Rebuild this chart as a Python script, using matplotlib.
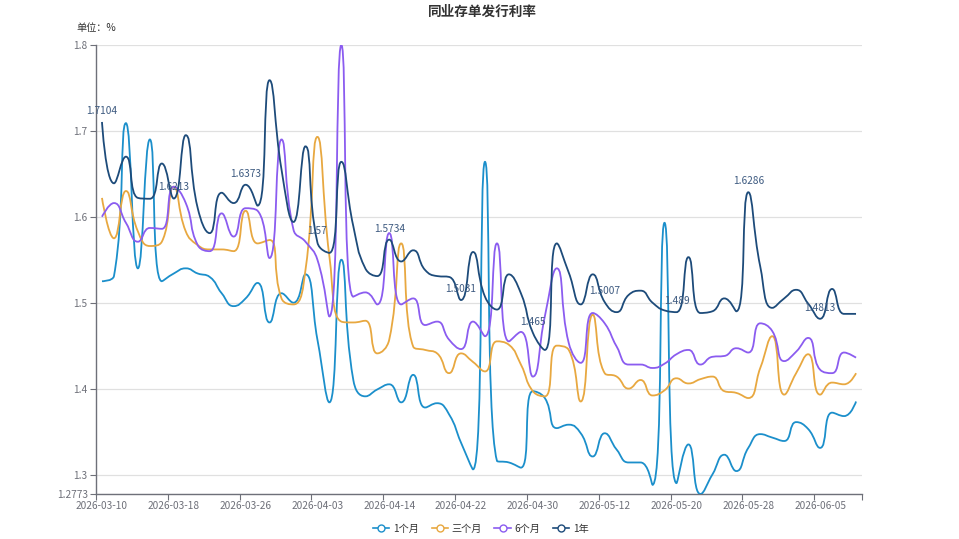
import numpy as np
import matplotlib
matplotlib.use('Agg')
import matplotlib.pyplot as plt
from matplotlib.path import Path
from matplotlib.patches import PathPatch
from matplotlib.lines import Line2D

plt.rcParams['font.family'] = ['Noto Sans CJK SC', 'DejaVu Sans']

# trading days shown on the category axis
dates = ['2026-03-10', '2026-03-11', '2026-03-12', '2026-03-13', '2026-03-16', '2026-03-17',
         '2026-03-18', '2026-03-19', '2026-03-20', '2026-03-23', '2026-03-24', '2026-03-25',
         '2026-03-26', '2026-03-27', '2026-03-30', '2026-03-31', '2026-04-01', '2026-04-02',
         '2026-04-03', '2026-04-07', '2026-04-08', '2026-04-09', '2026-04-10', '2026-04-13',
         '2026-04-14', '2026-04-15', '2026-04-16', '2026-04-17', '2026-04-20', '2026-04-21',
         '2026-04-22', '2026-04-23', '2026-04-24', '2026-04-27', '2026-04-28', '2026-04-29',
         '2026-04-30', '2026-05-06', '2026-05-07', '2026-05-08', '2026-05-09', '2026-05-11',
         '2026-05-12', '2026-05-13', '2026-05-14', '2026-05-15', '2026-05-18', '2026-05-19',
         '2026-05-20', '2026-05-21', '2026-05-22', '2026-05-25', '2026-05-26', '2026-05-27',
         '2026-05-28', '2026-05-29', '2026-06-01', '2026-06-02', '2026-06-03', '2026-06-04',
         '2026-06-05', '2026-06-08', '2026-06-09', '2026-06-10']

rate_1m = [1.525, 1.531, 1.709, 1.540, 1.690, 1.525, 1.534, 1.540, 1.534, 1.530,
           1.511, 1.496, 1.505, 1.523, 1.477, 1.511, 1.500, 1.533, 1.457, 1.384,
           1.550, 1.410, 1.391, 1.399, 1.405, 1.384, 1.416, 1.378, 1.383, 1.370,
           1.337, 1.306, 1.664, 1.316, 1.314, 1.308, 1.397, 1.389, 1.354, 1.358,
           1.348, 1.321, 1.348, 1.329, 1.314, 1.314, 1.288, 1.593, 1.290, 1.335,
           1.2773, 1.300, 1.323, 1.304, 1.331, 1.347, 1.343, 1.339, 1.361, 1.353,
           1.331, 1.372, 1.368, 1.385]

rate_3m = [1.622, 1.575, 1.630, 1.583, 1.566, 1.571, 1.635, 1.583, 1.567, 1.562,
           1.562, 1.560, 1.607, 1.569, 1.573, 1.505, 1.498, 1.538, 1.693, 1.554,
           1.478, 1.477, 1.479, 1.441, 1.457, 1.569, 1.449, 1.445, 1.441, 1.418,
           1.441, 1.431, 1.420, 1.455, 1.451, 1.428, 1.397, 1.391, 1.450, 1.445,
           1.385, 1.486, 1.418, 1.414, 1.400, 1.410, 1.392, 1.398, 1.412, 1.406,
           1.411, 1.414, 1.397, 1.395, 1.389, 1.424, 1.461, 1.393, 1.418, 1.440,
           1.393, 1.407, 1.405, 1.418]

rate_6m = [1.600, 1.616, 1.593, 1.571, 1.587, 1.586, 1.635, 1.616, 1.567, 1.560,
           1.604, 1.577, 1.610, 1.607, 1.552, 1.690, 1.585, 1.571, 1.550, 1.484,
           1.800, 1.507, 1.512, 1.498, 1.581, 1.498, 1.505, 1.474, 1.478, 1.457,
           1.446, 1.478, 1.461, 1.569, 1.455, 1.466, 1.414, 1.484, 1.540, 1.453,
           1.430, 1.488, 1.476, 1.449, 1.428, 1.428, 1.424, 1.429, 1.440, 1.445,
           1.428, 1.437, 1.438, 1.447, 1.442, 1.476, 1.467, 1.432, 1.443, 1.459,
           1.422, 1.418, 1.442, 1.436]

rate_1y = [1.7104, 1.639, 1.670, 1.622, 1.621, 1.662, 1.6213, 1.695, 1.610, 1.581,
           1.628, 1.616, 1.6373, 1.613, 1.759, 1.655, 1.594, 1.682, 1.57, 1.558,
           1.664, 1.589, 1.540, 1.531, 1.5734, 1.548, 1.561, 1.538, 1.531, 1.530,
           1.5031, 1.559, 1.507, 1.492, 1.533, 1.511, 1.465, 1.445, 1.569, 1.535,
           1.498, 1.533, 1.5007, 1.489, 1.509, 1.514, 1.500, 1.491, 1.489, 1.553,
           1.488, 1.490, 1.505, 1.490, 1.6286, 1.542, 1.494, 1.505, 1.515, 1.499,
           1.4813, 1.516, 1.487, 1.487]

series_names = ['1个月', '三个月', '6个月', '1年']
series_colors = ['#1b8fcb', '#e8a840', '#8b5cf0', '#1d4b7a']


def smooth_path(xs, ys, sx, sy, smooth=0.5):
    """ Bezier path through the points, control points worked out like echarts smooth lines """
    px = np.asarray(xs, float) * sx
    py = np.asarray(ys, float) * sy
    n = len(px)
    verts = [(px[0], py[0])]
    codes = [Path.MOVETO]
    cp0 = (px[0], py[0])
    for i in range(1, n):
        x, y = px[i], py[i]
        prx, pry = px[i - 1], py[i - 1]
        if i == n - 1:
            cp1 = (x, y)
            nxt = None
        else:
            nx, ny = px[i + 1], py[i + 1]
            vx, vy = nx - prx, ny - pry
            lp = np.hypot(x - prx, y - pry)
            ln = np.hypot(nx - x, ny - y)
            r = ln / (ln + lp)
            ncx = x + vx * smooth * r
            ncy = y + vy * smooth * r
            ncx = max(min(ncx, max(nx, x)), min(nx, x))
            ncy = max(min(ncy, max(ny, y)), min(ny, y))
            vx, vy = ncx - x, ncy - y
            c1x = x - vx * lp / ln
            c1y = y - vy * lp / ln
            c1x = max(min(c1x, max(prx, x)), min(prx, x))
            c1y = max(min(c1y, max(pry, y)), min(pry, y))
            vx, vy = x - c1x, y - c1y
            cp1 = (c1x, c1y)
            nxt = (x + vx * ln / lp, y + vy * ln / lp)
        verts += [cp0, cp1, (x, y)]
        codes += [Path.CURVE4] * 3
        cp0 = nxt
    verts = np.array(verts)
    verts[:, 0] /= sx
    verts[:, 1] /= sy
    return Path(verts, codes)


fig = plt.figure(figsize=(9.59, 5.39), dpi=100)
ax = fig.add_axes([96 / 959, 45 / 539, 766 / 959, 449 / 539])

idx = np.arange(len(dates))
ymin = min(rate_1m + rate_3m + rate_6m + rate_1y)
ymax = max(rate_1m + rate_3m + rate_6m + rate_1y)

for vals, color in zip([rate_1m, rate_3m, rate_6m, rate_1y], series_colors):
    path = smooth_path(idx, vals, 12, 860)
    ax.add_patch(PathPatch(path, facecolor='none', edgecolor=color, lw=1.3, zorder=3))

# value labels on every 6th point of the 1-year series
for i in range(0, len(dates), 6):
    v = rate_1y[i]
    ax.annotate(f'{v:.4f}'.rstrip('0').rstrip('.'), (i, v), xytext=(0, 8),
                textcoords='offset points', ha='center', va='center',
                fontsize=7.3, color='#3d5a80', zorder=4)

ax.set_xlim(-0.5, len(dates) - 0.5)
ax.set_ylim(ymin, ymax)

yt = [ymin, 1.3, 1.4, 1.5, 1.6, 1.7, 1.8]
ax.set_yticks(yt)
ax.set_yticklabels([f'{t:.4f}'.rstrip('0').rstrip('.') for t in yt])
ax.grid(axis='y', color='#e0e0e0', lw=0.9, zorder=0)

major = list(np.arange(-0.5, len(dates), 6)) + [len(dates) - 0.5]
ax.set_xticks(major)
ax.set_xticklabels([''] * len(major))
ax.set_xticks(idx[::6], minor=True)
ax.set_xticklabels(dates[::6], minor=True)
ax.tick_params(axis='x', which='minor', length=0, pad=5, labelsize=7.3, labelcolor='#6e7079')
ax.tick_params(axis='x', which='major', length=4, color='#6e7079')
ax.tick_params(axis='y', length=4, color='#6e7079', labelsize=7.3, labelcolor='#6e7079', pad=2)

for s in ['top', 'right']:
    ax.spines[s].set_visible(False)
for s in ['left', 'bottom']:
    ax.spines[s].set_color('#6e7079')
    ax.spines[s].set_linewidth(1.0)

fig.text(0.503, 1 - 12 / 539, '同业存单发行利率', ha='center', va='center',
         fontsize=9.8, fontweight='bold', color='#333333')
fig.text(76 / 959, 1 - 28 / 539, '单位：%', ha='left', va='center',
         fontsize=7.3, color='#333333')

handles = [Line2D([0], [0], color=c, lw=1.2, marker='o', markersize=5,
                  markerfacecolor='white', markeredgecolor=c) for c in series_colors]
leg = fig.legend(handles, series_names, loc='center', bbox_to_anchor=(481 / 959, 1 - 529 / 539),
                 ncol=4, frameon=False, fontsize=7.3, handlelength=1.6,
                 columnspacing=1.2, handletextpad=0.4)
for t in leg.get_texts():
    t.set_color('#333333')

fig.savefig('out.png', dpi=100)
